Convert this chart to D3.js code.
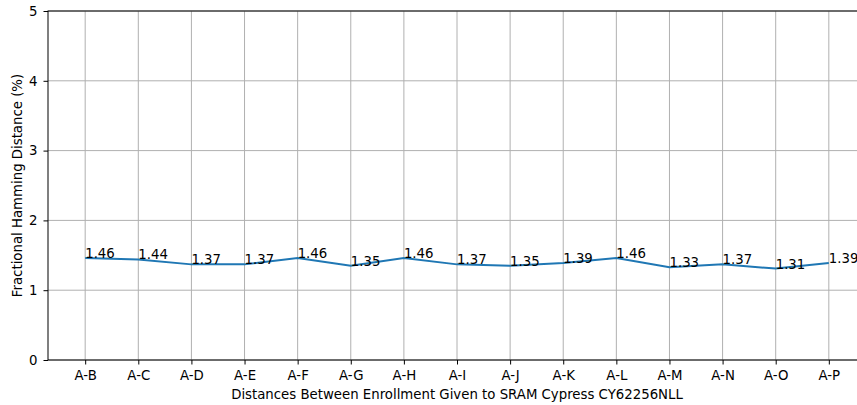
<!DOCTYPE html>
<html>
<head>
<meta charset="utf-8">
<script src="https://cdn.jsdelivr.net/npm/d3@7"></script>
<style>
  body { margin: 0; background: #fff; }
  svg text { font-family: "DejaVu Sans", sans-serif; }
</style>
</head>
<body>
<svg id="chart" width="857" height="405"></svg>
<script>
// data
const pairs = ["A-B", "A-C", "A-D", "A-E", "A-F", "A-G", "A-H", "A-I", "A-J", "A-K", "A-L", "A-M", "A-N", "A-O", "A-P"];
const distances = [1.46, 1.44, 1.37, 1.37, 1.46, 1.35, 1.46, 1.37, 1.35, 1.39, 1.46, 1.33, 1.37, 1.31, 1.39];
const yTicks = [0, 1, 2, 3, 4, 5];

const svg = d3.select("svg#chart");

// axes box (right side runs past the window, like the original)
const plotLeft = 48, plotRight = 866, plotTop = 11, plotBottom = 360;

const x = d3.scaleLinear()
    .domain([-0.7, pairs.length - 1 + 0.7])
    .range([plotLeft, plotRight]);

const y = d3.scaleLinear()
    .domain([0, 5])
    .range([plotBottom, plotTop]);

// grid
svg.append("g")
    .selectAll("line")
    .data(pairs)
    .enter().append("line")
    .attr("x1", (d, i) => x(i)).attr("x2", (d, i) => x(i))
    .attr("y1", plotTop).attr("y2", plotBottom)
    .style("stroke", "#b0b0b0")
    .style("stroke-width", 1);

svg.append("g")
    .selectAll("line")
    .data(yTicks)
    .enter().append("line")
    .attr("x1", plotLeft).attr("x2", plotRight)
    .attr("y1", d => y(d)).attr("y2", d => y(d))
    .style("stroke", "#b0b0b0")
    .style("stroke-width", 1);

// axes
const xAxis = d3.axisBottom(x)
    .tickValues(d3.range(pairs.length))
    .tickFormat(i => pairs[i])
    .tickSize(4.5)
    .tickPadding(6.5);

const yAxis = d3.axisLeft(y)
    .tickValues(yTicks)
    .tickFormat(d3.format("d"))
    .tickSize(4.5)
    .tickPadding(6);

const gx = svg.append("g")
    .attr("transform", `translate(0,${plotBottom})`)
    .call(xAxis);

const gy = svg.append("g")
    .attr("transform", `translate(${plotLeft},0)`)
    .call(yAxis);

[gx, gy].forEach(g => {
    g.attr("font-family", null).attr("font-size", null);
    g.select(".domain").remove();
    g.selectAll("line").style("stroke", "#000").style("stroke-width", 1);
    g.selectAll("text").style("font-size", "13.3px").style("fill", "#000");
});

// spines
svg.append("rect")
    .attr("x", plotLeft).attr("y", plotTop)
    .attr("width", plotRight - plotLeft).attr("height", plotBottom - plotTop)
    .style("fill", "none")
    .style("stroke", "#000")
    .style("stroke-width", 1);

// the line
const line = d3.line()
    .x((d, i) => x(i))
    .y(d => y(d));

svg.append("path")
    .datum(distances)
    .attr("d", line)
    .style("fill", "none")
    .style("stroke", "#1f77b4")
    .style("stroke-width", 2);

// value labels
svg.append("g")
    .selectAll("text")
    .data(distances)
    .enter().append("text")
    .attr("x", (d, i) => x(i))
    .attr("y", d => y(d))
    .style("font-size", "13.3px")
    .style("fill", "#000")
    .text(d => d.toFixed(2));

// axis labels
svg.append("text")
    .attr("x", (plotLeft + plotRight) / 2)
    .attr("y", 399)
    .attr("text-anchor", "middle")
    .style("font-size", "13.3px")
    .text("Distances Between Enrollment Given to SRAM Cypress CY62256NLL");

svg.append("text")
    .attr("transform", `translate(22,${(plotTop + plotBottom) / 2}) rotate(-90)`)
    .attr("text-anchor", "middle")
    .style("font-size", "13.3px")
    .text("Fractional Hamming Distance (%)");
</script>
</body>
</html>
